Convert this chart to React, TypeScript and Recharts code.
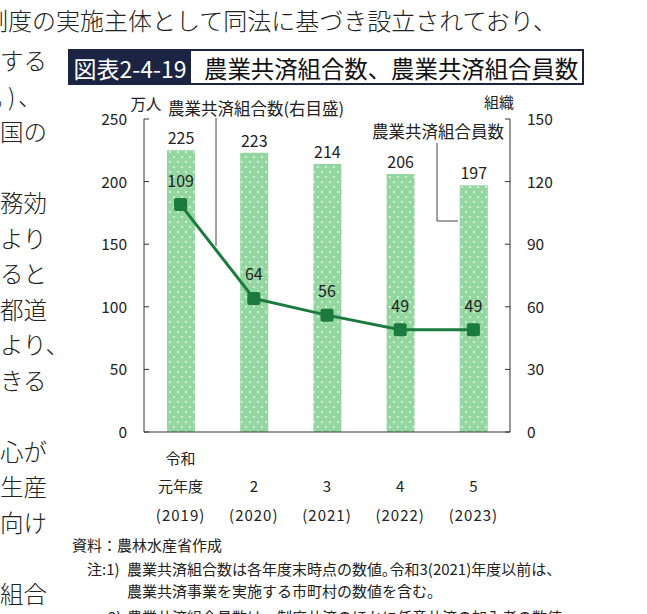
import { ComposedChart, Bar, Line, XAxis, YAxis, LabelList } from 'recharts';

const FONT = '"Noto Sans CJK JP", "Noto Sans", sans-serif';
const BAR = '#93d69f';
const LINE = '#1b7a3e';
const INK = '#222';
const NAVY = '#1b2442';

// 年度（令和）と西暦
const era = '令和';
const fiscalYears = ['元年度', '2', '3', '4', '5'];
const westernYears = ['2019', '2020', '2021', '2022', '2023'];
// 農業共済組合員数（万人、左目盛）
const memberCounts = [225, 223, 214, 206, 197];
// 農業共済組合数（組織、右目盛）
const unionCounts = [109, 64, 56, 49, 49];
const leftTicks = [0, 50, 100, 150, 200, 250];
const rightTicks = [0, 30, 60, 90, 120, 150];

// page text around the figure
const topLine = '制度の実施主体として同法に基づき設立されており、';
const sideLines = ['する', '', '国の', '', '務効', 'より', 'ると', '都道', 'より、', 'きる', '', '心が', '生産', '向け', '', '組合'];

const data = fiscalYears.map((fy, i) => ({
  fy,
  members: memberCounts[i],
  unions: unionCounts[i],
}));

function YearTick({ x, y, payload, index }: any) {
  return (
    <g fontFamily={FONT} fontSize={15} fill={INK} textAnchor="middle">
      {index === 0 && <text x={x} y={y + 25} dominantBaseline="central">{era}</text>}
      <text x={x} y={y + 53} dominantBaseline="central">{payload.value}</text>
      <text x={x} y={y + 82} dominantBaseline="central" letterSpacing={1}>({westernYears[index]})</text>
    </g>
  );
}

function LeftTick({ x, y, payload }: any) {
  return (
    <g>
      <line x1={x + 17} x2={x + 22} y1={y} y2={y} stroke="#333" />
      <text x={x} y={y - 1} textAnchor="end" dominantBaseline="central" fontFamily={FONT} fontSize={15.5} fill={INK}>
        {payload.value}
      </text>
    </g>
  );
}

function RightTick({ x, y, payload }: any) {
  return (
    <g>
      <line x1={x - 17} x2={x - 22} y1={y} y2={y} stroke="#333" />
      <text x={x} y={y - 1} textAnchor="start" dominantBaseline="central" fontFamily={FONT} fontSize={15.5} fill={INK}>
        {payload.value}
      </text>
    </g>
  );
}

const SquareDot = ({ cx, cy, index }: any) =>
  cx == null ? null : <rect key={index} x={cx - 6.5} y={cy - 6.5} width={13} height={13} rx={2} fill={LINE} />;

export default function App() {
  return (
    <div style={{ position: 'fixed', left: 0, top: 0, width: 647, height: 614, overflow: 'hidden', background: '#fff' }}>
      <svg width={0} height={0} style={{ position: 'absolute' }}>
        <defs>
          <pattern id="dots" patternUnits="userSpaceOnUse" width={8} height={10}>
            <rect width={8} height={10} fill={BAR} />
            <circle cx={2} cy={2} r={0.9} fill="#fff" opacity={0.85} />
            <circle cx={6} cy={7} r={0.9} fill="#fff" opacity={0.85} />
          </pattern>
        </defs>
      </svg>

      <div style={{ position: 'absolute', left: 0, top: 0 }}>
        <ComposedChart width={647} height={614} data={data} margin={{ top: 119, right: 0, bottom: 82, left: 0 }}>
          <XAxis
            dataKey="fy"
            height={100}
            axisLine={{ stroke: '#333' }}
            tickLine={false}
            tickSize={0}
            tickMargin={0}
            tick={<YearTick />}
            interval={0}
          />
          <YAxis
            yAxisId="left"
            orientation="left"
            width={144}
            domain={[0, 250]}
            ticks={leftTicks}
            axisLine={{ stroke: '#333' }}
            tickLine={false}
            tickSize={0}
            tickMargin={17}
            tick={<LeftTick />}
            interval={0}
          />
          <YAxis
            yAxisId="right"
            orientation="right"
            width={137}
            domain={[0, 150]}
            ticks={rightTicks}
            axisLine={{ stroke: '#333' }}
            tickLine={false}
            tickSize={0}
            tickMargin={17}
            tick={<RightTick />}
            interval={0}
          />
          <Bar yAxisId="left" dataKey="members" barSize={28} fill="url(#dots)" isAnimationActive={false}>
            <LabelList dataKey="members" position="top" offset={6} fill={INK} fontSize={16} fontFamily={FONT} />
          </Bar>
          <Line
            yAxisId="right"
            dataKey="unions"
            stroke={LINE}
            strokeWidth={3}
            dot={<SquareDot />}
            activeDot={false}
            isAnimationActive={false}
          >
            <LabelList dataKey="unions" position="top" offset={18} fill={INK} fontSize={16} fontFamily={FONT} />
          </Line>
        </ComposedChart>
      </div>

      {/* surrounding page text, title, callouts and notes */}
      <svg width={647} height={614} style={{ position: 'absolute', left: 0, top: 0, pointerEvents: 'none' }} fontFamily={FONT} fill={INK}>
        <g fontWeight={300}>
          <text x={-16} y={19} fontSize={24} dominantBaseline="central">{topLine}</text>
          {sideLines.map((s, i) =>
            s ? (
              <text key={i} x={0} y={60 + i * 35.5} fontSize={23.5} dominantBaseline="central">{s}</text>
            ) : null
          )}
          {/* the clipped "。)、" line */}
          <text x={-7} y={95.5} fontSize={23.5} dominantBaseline="central">。</text>
          <text x={8} y={95.5} fontSize={23.5} dominantBaseline="central">)</text>
          <text x={18} y={95.5} fontSize={23.5} dominantBaseline="central">、</text>
        </g>

        <rect x={69} y={50} width={514} height={34} fill="#fff" stroke={NAVY} strokeWidth={2} />
        <rect x={69} y={50} width={122} height={34} fill={NAVY} />
        <text x={130} y={67.5} fontSize={23} fill="#fff" textAnchor="middle" dominantBaseline="central">図表2-4-19</text>
        <text x={204} y={67.5} fontSize={23.4} fill="#111" dominantBaseline="central">農業共済組合数、農業共済組合員数</text>

        <text x={146} y={103} fontSize={15.5} textAnchor="middle" dominantBaseline="central">万人</text>
        <text x={499} y={101} fontSize={15} textAnchor="middle" dominantBaseline="central">組織</text>

        <text x={168} y={108} fontSize={16.5} dominantBaseline="central">農業共済組合数(右目盛)</text>
        <line x1={216} x2={216} y1={118} y2={246} stroke="#444" strokeWidth={1} />
        <text x={438} y={131} fontSize={16.5} textAnchor="middle" dominantBaseline="central">農業共済組合員数</text>
        <polyline points="437,143 437,221 458,221" fill="none" stroke="#444" strokeWidth={1} />

        <text x={72} y={544} fontSize={15} dominantBaseline="central">資料：農林水産省作成</text>
        <text x={87} y={568} fontSize={15} dominantBaseline="central">注:1)</text>
        <text x={127} y={568} fontSize={15} dominantBaseline="central">農業共済組合数は各年度末時点の数値｡令和3(2021)年度以前は、</text>
        <text x={127} y={590} fontSize={15} dominantBaseline="central">農業共済事業を実施する市町村の数値を含む。</text>
        <text x={108} y={616} fontSize={15} dominantBaseline="central">2)</text>
        <text x={127} y={616} fontSize={15} dominantBaseline="central">農業共済組合員数は、制度共済のほかに任意共済の加入者の数値</text>
      </svg>
    </div>
  );
}
